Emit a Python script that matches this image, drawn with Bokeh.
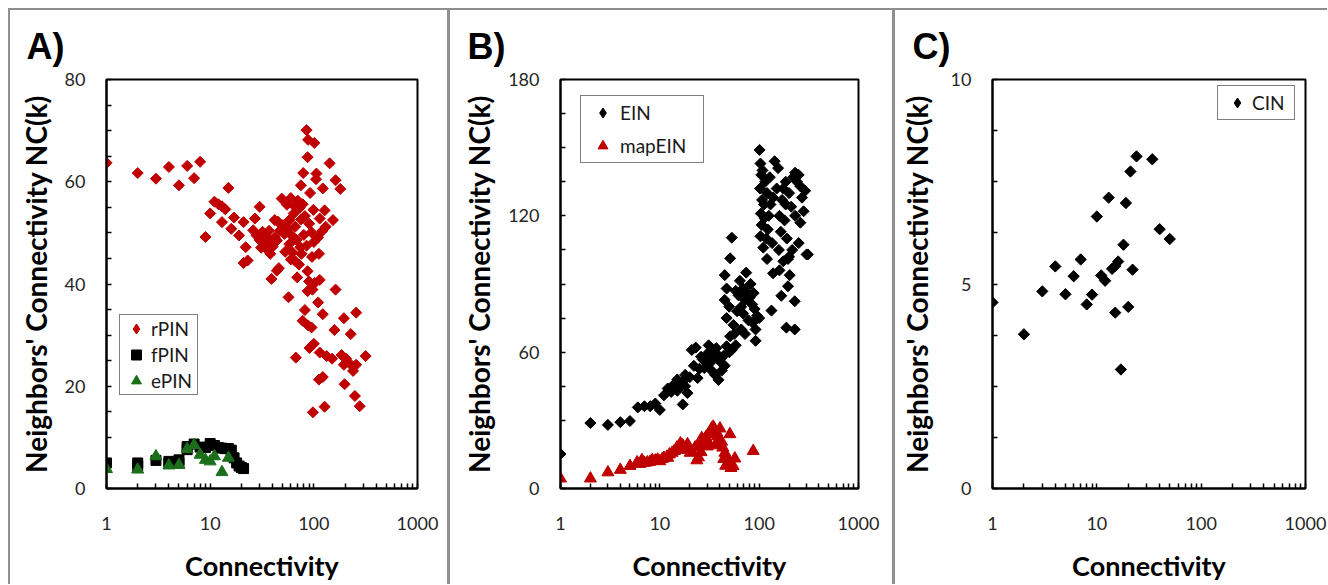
import numpy as np
from bokeh.plotting import figure
from bokeh.models import FixedTicker, Legend, LegendItem, PrintfTickFormatter, Range1d, Spacer
from bokeh.layouts import row, column
from bokeh.embed import file_html
from bokeh.resources import INLINE

# ---------------- data ----------------
# Panel A
rpin_k = [1, 2, 3, 4, 5, 6, 7, 8, 9, 10, 11, 12, 13, 14, 13, 15, 17, 16, 19, 21, 22, 21, 23, 26, 27, 30,
          28, 30, 32, 34, 35, 37, 38, 40, 42, 44, 31, 36, 38, 39, 44, 46, 42, 49, 55, 60, 65, 70, 73,
          50, 58, 66, 75, 90, 82, 58, 62, 66, 72, 69, 57,
          79, 75, 85, 88, 101, 87, 106, 105, 142, 122, 162, 180, 127, 114, 153, 121, 112,
          90, 102, 114, 87, 97, 162, 110, 82, 122, 78, 88, 95, 158, 195, 256, 227, 67, 91, 100, 114,
          133, 150, 185, 205, 195, 225, 256, 316, 239, 112, 122, 198, 249, 277, 98, 127,
          52, 56, 61, 68, 74, 80, 85, 95, 100, 64, 78, 92, 45, 47, 53, 99, 130, 110, 96, 87, 76, 60]
rpin_v = [63.7, 61.7, 60.6, 62.9, 59.3, 63.1, 60.7, 63.9, 49.2, 53.8, 56.1, 55.6, 55.2, 54.6, 52.1, 58.8, 53.0, 50.8, 49.5, 52.1, 47.2, 44.1, 44.6, 50.5, 52.8, 55.1,
          49.5, 48.6, 50.2, 47.8, 49.3, 50.4, 48.2, 47.3, 49.1, 48.5, 47.1, 46.6, 45.9, 41.0, 42.6, 43.1, 52.5, 56.7, 55.5, 56.8, 55.2, 56.3, 54.9,
          51.5, 52.5, 51.2, 52.6, 51.8, 53.3, 47.8, 46.2, 44.5, 43.8, 41.3, 37.4,
          61.7, 59.3, 70.1, 68.2, 67.6, 64.8, 61.6, 60.5, 63.6, 58.7, 60.3, 58.6, 54.4, 52.8, 52.5, 50.4, 45.9,
          40.5, 40.2, 40.8, 38.6, 38.9, 38.9, 36.4, 34.9, 34.1, 32.8, 31.9, 31.5, 31.0, 33.3, 34.4, 30.2, 25.6, 27.5, 28.3, 26.6,
          25.9, 25.4, 26.1, 25.4, 24.2, 24.3, 24.2, 25.9, 23.0, 21.3, 21.8, 20.4, 18.1, 16.1, 14.9, 16.0,
          49.8, 50.8, 49.5, 48.6, 47.2, 49.6, 47.5, 50.1, 48.2, 53.8, 55.6, 57.8, 52.2, 50.4, 46.3, 54.5, 51.2, 49.1, 45.3, 42.5, 45.9, 44.8]
fpin_k = [1, 2, 2, 3, 4, 4, 5, 5, 6, 6, 7, 8, 9, 10, 11, 12, 13, 14, 15, 16, 17, 18, 19, 20, 21]
fpin_v = [5.0, 5.0, 4.4, 5.5, 5.3, 4.9, 5.6, 5.0, 7.6, 8.2, 8.7, 8.1, 8.0, 8.8, 8.4, 8.0, 7.9, 7.8, 7.8, 7.5, 6.0, 5.0, 4.4, 4.1, 3.9]
epin_k = [1, 2, 3, 4, 5, 6, 7, 8, 9, 10, 11, 13, 15]
epin_v = [3.8, 3.7, 6.3, 4.5, 4.6, 7.7, 8.5, 6.6, 5.6, 5.3, 6.3, 3.2, 6.0]

# Panel B
ein_k = [1, 2, 3, 4, 5, 6, 7, 8, 9, 10, 17,
         11, 12, 13, 14, 15, 15, 16, 17, 18, 19, 20, 18,
         21, 24, 25, 27, 30, 32, 35, 37, 39, 42, 44, 47, 53,
         22, 23, 26, 28, 31, 33, 36, 40, 45, 50, 29, 34, 38,
         53, 51, 45, 47, 45, 50, 47, 55, 51, 56, 58, 62, 64, 69, 74, 80, 69, 85, 78, 92, 92, 86, 58, 60, 66, 72, 76, 82, 88, 90, 95, 66, 72, 100,
         101, 103, 105, 102, 107, 104, 106, 103, 110, 113, 115, 112, 118, 120, 108, 125, 122, 128, 130, 135, 138, 143, 155, 150, 160, 165, 158,
         170, 175, 180, 185, 190, 200, 210, 220, 230, 240, 250, 260, 270, 280, 290, 260, 250, 230, 215, 200, 185, 175, 300, 309,
         138, 133, 167, 203, 195, 228, 188, 228, 195, 160, 120]
ein_v = [15.2, 28.8, 28.0, 29.2, 29.7, 35.7, 36.2, 36.2, 37.4, 34.6, 37.0,
         41.0, 44.0, 42.5, 46.0, 48.0, 43.0, 44.5, 47.0, 45.0, 42.0, 49.0, 50.0,
         61.0, 48.6, 52.7, 56.8, 59.3, 55.2, 57.7, 61.8, 47.8, 51.9, 58.5, 62.6, 61.0,
         54.0, 62.0, 58.0, 53.0, 63.0, 52.0, 50.0, 56.0, 54.0, 60.0, 57.0, 60.0, 59.0,
         110.4, 101.3, 93.9, 88.0, 83.0, 80.0, 75.0, 72.0, 67.0, 68.0, 87.0, 85.0, 91.4, 88.0, 95.0, 84.0, 77.0, 81.0, 74.0, 70.0, 65.0, 73.0, 63.0, 78.0, 80.0, 83.0, 86.0, 90.0, 86.0, 79.0, 76.0, 70.0, 68.0, 75.0,
         149.0, 143.0, 138.0, 132.0, 127.0, 121.0, 116.0, 111.0, 106.0, 119.0, 135.0, 125.0, 110.0, 130.0, 140.0, 120.0, 114.0, 137.0, 125.0, 108.0, 128.0, 144.0, 141.0, 132.0, 120.0, 113.0, 105.0,
         127.0, 100.0, 118.0, 135.0, 110.0, 130.0, 124.0, 137.0, 139.0, 135.0, 138.0, 133.0, 128.0, 122.0, 131.0, 117.0, 108.0, 120.0, 105.0, 102.0, 125.0, 132.0, 103.0, 103.0,
         94.7, 78.3, 84.8, 93.9, 89.0, 82.4, 70.8, 70.0, 101.0, 96.0, 101.0]
mapein_k = [1, 2, 3, 4, 5, 5.9, 6.6, 7.5, 8.4, 9.5, 10.6, 11.8, 13.3, 14.9, 16.1, 17.4, 18.7, 20.2, 22.7, 24.5, 23.6,
            26.4, 28.5, 30.8, 33.2, 34.5, 37.3, 40.3, 41.9, 45.2, 48.8, 50.7, 54.7, 56.9, 87.1,
            12.5, 14, 15.5, 17, 19, 20, 21, 25, 27, 29, 31, 32, 35, 38, 39, 43, 44, 46, 48, 52, 12, 10, 11, 26, 30, 36, 9, 7, 6.3, 8]
mapein_v = [4.4, 4.4, 7.1, 8.2, 9.9, 11.5, 12.5, 11.5, 12.5, 12.7, 13.0, 14.0, 15.7, 18.1, 19.8, 18.1, 17.3, 15.7, 18.1, 13.7, 12.4,
            22.2, 21.4, 23.9, 26.4, 27.2, 24.7, 26.4, 20.6, 15.7, 11.5, 23.9, 9.9, 13.2, 16.5,
            15.0, 16.5, 17.0, 19.0, 19.5, 17.0, 16.5, 19.0, 20.0, 22.5, 20.0, 24.0, 25.0, 23.0, 21.0, 18.0, 13.0, 10.0, 13.5, 9.0, 13.5, 12.0, 13.5, 16.0, 18.5, 19.0, 12.3, 11.3, 10.8, 11.8]

# Panel C
cin_k = [1, 2, 3, 4, 5, 6, 7, 8, 9, 10, 11, 12, 13, 14, 15, 15, 16, 17, 18, 19, 20, 21, 22, 24, 34, 40, 50]
cin_v = [4.55, 3.77, 4.82, 5.43, 4.75, 5.19, 5.6, 4.5, 4.74, 6.65, 5.21, 5.08, 7.11, 5.37, 4.3, 5.44, 5.55, 2.91, 5.96, 6.98, 4.44, 7.75, 5.35, 8.12, 8.05, 6.34, 6.1]

x_major = [1, 10, 100, 1000]
x_minor = [m * d for d in (1, 10, 100) for m in range(2, 10)]

RED = "#C00000"
GREEN = "#1B6F1B"
GRAY = "#8f8f8f"
LABEL_FONT = "Lato"
FIG_H = 574
NO_POINT = [np.nan]   # legend-key renderers draw no mark in the plot


def make_panel(width, left, right, title, title_offset, ymax, ystep, ylabel_standoff):
    p = figure(width=width, height=FIG_H, x_axis_type="log",
               x_range=Range1d(1, 1000), y_range=Range1d(0, ymax),
               output_backend="svg", toolbar_location=None,
               min_border_left=left, min_border_right=right,
               min_border_top=69, min_border_bottom=FIG_H + 10 - 489)
    p.title.text = title
    p.title.text_font = "Liberation Sans"
    p.title.text_font_size = "36px"
    p.title.text_font_style = "bold"
    p.title.text_color = "black"
    p.title.align = "left"
    p.title.offset = title_offset
    p.title.standoff = 26
    p.grid.visible = False
    p.outline_line_color = "black"
    p.outline_line_width = 2
    p.background_fill_color = "white"
    p.border_fill_color = "white"

    yt = list(np.arange(0, ymax + 1e-9, ystep))
    ym = [v for v in np.arange(0, ymax + 1e-9, ystep / 4) if v not in yt]
    p.yaxis.ticker = FixedTicker(ticks=yt, minor_ticks=ym)
    p.xaxis.ticker = FixedTicker(ticks=x_major, minor_ticks=x_minor)
    p.xaxis.formatter = PrintfTickFormatter(format="%d")
    if ystep < 10:
        p.yaxis.formatter = PrintfTickFormatter(format="%d")

    for ax in (p.xaxis, p.yaxis):
        ax.axis_line_color = "black"
        ax.axis_line_width = 2
        ax.major_tick_in = 5
        ax.major_tick_out = 0
        ax.minor_tick_in = 5
        ax.minor_tick_out = 0
        ax.major_tick_line_width = 1.5
        ax.minor_tick_line_width = 1.5
        ax.major_label_text_font = LABEL_FONT
        ax.major_label_text_font_size = "18px"
        ax.major_label_text_color = "#262626"
        ax.axis_label_text_font = LABEL_FONT
        ax.axis_label_text_font_style = "bold"
        ax.axis_label_text_color = "black"
    p.xaxis.axis_label_text_font_size = "27px"
    p.yaxis.axis_label_text_font_size = "28px"
    p.xaxis.axis_label = "Connectivity"
    p.xaxis.major_label_standoff = 28
    p.xaxis.axis_label_standoff = 16
    p.yaxis.axis_label = "Neighbors' Connectivity NC(k)"
    p.yaxis.major_label_standoff = 21
    p.yaxis.axis_label_standoff = ylabel_standoff
    return p


def style_legend(lg, loc, glyph_w, glyph_h, spacing, padding, label_w):
    lg.location = loc
    lg.margin = 0
    lg.padding = padding
    lg.spacing = spacing
    lg.glyph_width = glyph_w
    lg.glyph_height = glyph_h
    lg.label_height = glyph_h
    lg.label_width = label_w
    lg.label_standoff = 0
    lg.label_text_font = LABEL_FONT
    lg.label_text_font_size = "19px"
    lg.label_text_color = "#1a1a1a"
    lg.border_line_color = "black"
    lg.border_line_width = 1.5
    lg.background_fill_color = "white"
    lg.background_fill_alpha = 1


# ---- Panel A ----
pa = make_panel(437, 96, 30, "A)", -80, 80, 20, 9)
ra = pa.scatter(rpin_k, rpin_v, marker="square", angle=np.pi / 4, size=7.8,
                fill_color=RED, line_color=RED)
fa = pa.scatter(fpin_k, fpin_v, marker="square", size=10,
                fill_color="black", line_color="black")
ea = pa.scatter(epin_k, epin_v, marker="triangle", size=12,
                fill_color=GREEN, line_color=GREEN)
ra_key = pa.scatter(NO_POINT, NO_POINT, marker="diamond", size=10, fill_color=RED, line_color=RED)
lga = Legend(items=[LegendItem(label="rPIN", renderers=[ra_key]),
                    LegendItem(label="fPIN", renderers=[fa]),
                    LegendItem(label="ePIN", renderers=[ea])])
style_legend(lga, (13, 93), 30, 25, 1, 1, 45)
pa.add_layout(lga)

# ---- Panel B ----
pb = make_panel(442, 110, 34, "B)", -93, 180, 60, 9)
rb = pb.scatter(ein_k, ein_v, marker="square", angle=np.pi / 4, size=7.8,
                fill_color="black", line_color="black")
mb = pb.scatter(mapein_k, mapein_v, marker="triangle", size=12,
                fill_color=RED, line_color=RED)
rb_key = pb.scatter(NO_POINT, NO_POINT, marker="diamond", size=10, fill_color="black", line_color="black")
lgb = Legend(items=[LegendItem(label="EIN", renderers=[rb_key]),
                    LegendItem(label="mapEIN", renderers=[mb])])
style_legend(lgb, (20, 325), 35, 25, 8, 4, 79)
pb.add_layout(lgb)

# ---- Panel C ----
pc = make_panel(432, 97, 22, "C)", -80, 10, 5, 14)
rc = pc.scatter(cin_k, cin_v, marker="square", angle=np.pi / 4, size=8,
                fill_color="black", line_color="black")
rc_key = pc.scatter(NO_POINT, NO_POINT, marker="diamond", size=10, fill_color="black", line_color="black")
lgc = Legend(items=[LegendItem(label="CIN", renderers=[rc_key])])
style_legend(lgc, (225, 368), 30, 25, 0, 4, 38)
pc.add_layout(lgc)


def gray(w, h):
    return Spacer(width=w, height=h, styles={"background-color": GRAY})


layout = column(
    Spacer(width=1327, height=8),
    row(Spacer(width=8, height=2), gray(1319, 2)),
    row(Spacer(width=8, height=FIG_H), gray(2, FIG_H), pa, gray(3, FIG_H), pb, gray(3, FIG_H), pc),
)
open("out.html", "w").write(file_html(layout, INLINE))
